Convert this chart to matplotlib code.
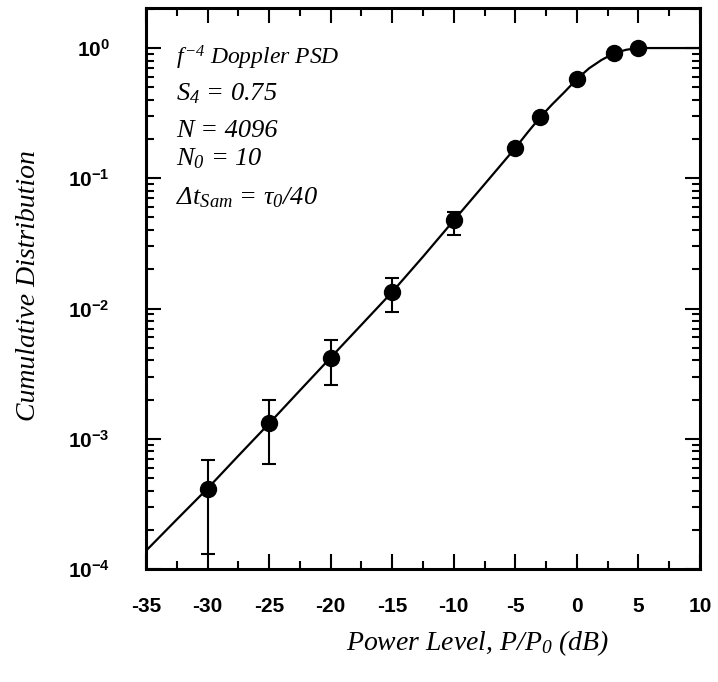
import matplotlib
matplotlib.use("Agg")
import matplotlib.pyplot as plt
from matplotlib.ticker import FixedLocator, FixedFormatter, NullFormatter
import numpy as np

# Data
power_db = [-30, -25, -20, -15, -10, -5, -3, 0, 3, 5]
cum_dist = [4.15e-4, 1.31e-3, 4.2e-3, 1.34e-2, 4.75e-2, 0.171, 0.293, 0.578, 0.91, 1.0]
err_low = [1.30e-4, 6.4e-4, 2.6e-3, 9.4e-3, 3.65e-2, 0.171, 0.293, 0.578, 0.91, 1.0]
err_high = [6.9e-4, 1.99e-3, 5.75e-3, 1.72e-2, 5.5e-2, 0.171, 0.293, 0.578, 0.91, 1.0]

curve_db = [-35, -32.5, -30, -27.5, -25, -22.5, -20, -17.5, -15, -12.5, -10, -7.5, -5,
            -4, -3, -2, -1, 0, 1, 2, 3, 4, 5, 6, 10]
curve_val = [1.38e-4, 2.4e-4, 4.15e-4, 7.4e-4, 1.31e-3, 2.35e-3, 4.2e-3, 7.5e-3, 1.34e-2,
             2.5e-2, 4.75e-2, 9.0e-2, 0.171, 0.225, 0.293, 0.37, 0.46, 0.578, 0.70,
             0.81, 0.91, 0.97, 1.0, 1.0, 1.0]

xticks = [-35, -30, -25, -20, -15, -10, -5, 0, 5, 10]
xtick_labels = ['-35', '-30', '-25', '-20', '-15', '-10', '-5', '0', '5', '10']
yticks = [1e-4, 1e-3, 1e-2, 1e-1, 1e0]
ytick_labels = [r'$\mathbf{10^{-4}}$', r'$\mathbf{10^{-3}}$', r'$\mathbf{10^{-2}}$',
                r'$\mathbf{10^{-1}}$', r'$\mathbf{10^{0}}$']

plt.rcParams['mathtext.fontset'] = 'custom'
plt.rcParams['mathtext.rm'] = 'Liberation Serif:italic'
plt.rcParams['mathtext.it'] = 'Liberation Serif:italic'
plt.rcParams['mathtext.bf'] = 'Liberation Sans:bold'

W, H = 718, 682
fig = plt.figure(figsize=(W / 100, H / 100), dpi=100)
L, R, T, B = 146, 700, 8, 569
ax = fig.add_axes([L / W, 1 - B / H, (R - L) / W, (B - T) / H])

ax.plot(curve_db, curve_val, color='black', lw=1.6, zorder=2)
yerr = [np.array(cum_dist) - np.array(err_low), np.array(err_high) - np.array(cum_dist)]
ax.errorbar(power_db, cum_dist, yerr=yerr, fmt='o', color='black', ms=11.5,
            capsize=5, elinewidth=1.5, capthick=1.5, zorder=3)

ax.set_yscale('log')
ax.set_xlim(-35, 10)
ax.set_ylim(1e-4, 2.03)

ax.xaxis.set_major_locator(FixedLocator(xticks))
ax.xaxis.set_major_formatter(FixedFormatter(xtick_labels))
ax.xaxis.set_minor_locator(FixedLocator(list(np.arange(-32.5, 10, 5.0))))
ax.yaxis.set_major_locator(FixedLocator(yticks))
ax.yaxis.set_major_formatter(FixedFormatter(ytick_labels))
minors = [m * 10.0 ** e for e in range(-4, 1) for m in range(2, 10)]
ax.yaxis.set_minor_locator(FixedLocator(minors))
ax.yaxis.set_minor_formatter(NullFormatter())

ax.tick_params(which='both', direction='in', top=True, right=True, width=1.5)
ax.tick_params(which='major', length=11)
ax.tick_params(which='minor', length=6)
ax.tick_params(axis='x', which='major', pad=20, labelsize=15)
ax.tick_params(axis='y', which='major', pad=26, labelsize=15)
for lbl in ax.get_xticklabels():
    lbl.set_fontweight('bold')
    lbl.set_family('Liberation Sans')
for s in ax.spines.values():
    s.set_linewidth(2.2)

lfont = dict(family='Liberation Serif', style='italic', fontsize=20, color='black')
ax.set_ylabel('Cumulative Distribution', **lfont)
ax.yaxis.label.set_verticalalignment('center')
ax.yaxis.set_label_coords((29 - L) / (R - L), 0.505)
ax.set_xlabel(r'Power Level, P/P$_{0}$ (dB)', **lfont)
ax.xaxis.label.set_verticalalignment('center')
ax.xaxis.set_label_coords((478 - L) / (R - L), -(643 - B) / (B - T))

ann = [
    (64, r'$f^{-4}$ Doppler PSD', 17),
    (100, r'S$_{4}$ = 0.75', 19),
    (137, r'N = 4096', 19),
    (165, r'N$_{0}$ = 10', 19),
    (204, r'$\Delta$t$_{Sam}$ = $\tau_{0}$/40', 19),
]
for ypx, txt, fs in ann:
    fig.text(176 / W, 1 - ypx / H, txt, ha='left', va='baseline',
             family='Liberation Serif', style='italic', fontsize=fs, color='black')

fig.savefig('out.png', dpi=100)
